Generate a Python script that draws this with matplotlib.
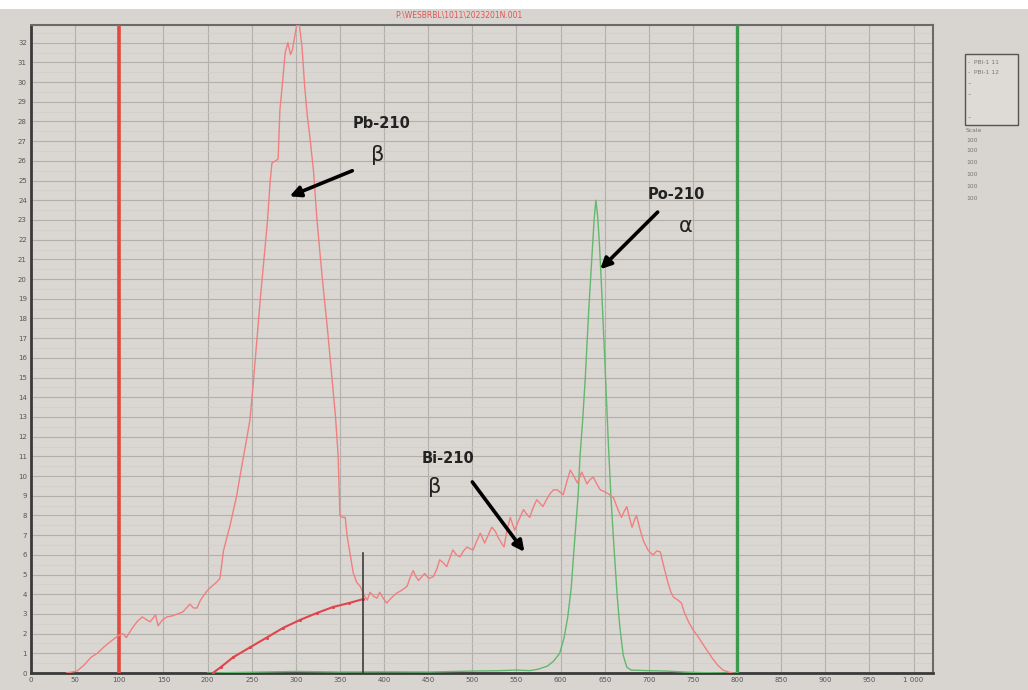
import matplotlib
matplotlib.use("Agg")
import matplotlib.pyplot as plt
from matplotlib.patches import Rectangle
import numpy as np

# spectre rouge (Pb-210 + Bi-210), canal / coups
red_ch = [40, 52, 60, 68, 75, 82, 90, 99, 104, 108, 115, 120, 126, 131, 135, 141, 144, 149, 154, 160,
          166, 172, 176, 180, 184, 188, 192, 195, 200, 206, 210, 214, 218, 222, 225, 229, 233, 236, 240, 244,
          248, 251, 254, 257, 260, 265, 268, 271, 273, 277, 280, 282, 285, 288, 291, 294, 296, 299, 301, 304,
          307, 310, 313, 316, 320, 324, 328, 331, 336, 342, 345, 348, 350, 353, 356, 358, 361, 365, 369, 373,
          378, 381, 384, 388, 392, 395, 399, 403, 408, 414, 420, 426, 430, 433, 436, 439, 443, 446, 451, 456,
          460, 463, 467, 471, 475, 478, 482, 486, 490, 494, 498, 501, 505, 509, 512, 514, 518, 522, 526, 529,
          533, 536, 539, 543, 546, 548, 553, 558, 561, 565, 569, 573, 577, 580, 584, 588, 592, 596, 599, 603,
          607, 611, 615, 619, 624, 627, 630, 633, 637, 641, 645, 650, 654, 657, 660, 665, 669, 672, 675, 678,
          681, 684, 686, 690, 694, 699, 702, 705, 709, 713, 717, 721, 725, 728, 733, 737, 740, 745, 750, 755,
          760, 766, 772, 778, 784, 790, 795]
red_counts = [0.0, 0.1, 0.4, 0.8, 1.0, 1.3, 1.6, 1.9, 2.0, 1.8, 2.3, 2.6, 2.85, 2.7, 2.6, 2.95, 2.4, 2.7, 2.85, 2.9,
              3.0, 3.1, 3.3, 3.5, 3.3, 3.3, 3.7, 3.9, 4.2, 4.45, 4.6, 4.8, 6.2, 6.9, 7.4, 8.2, 9.0, 9.8, 10.8, 11.8,
              12.85, 14.3, 15.9, 17.5, 19.1, 21.5, 23.0, 25.0, 25.9, 26.0, 26.1, 28.6, 30.0, 31.5, 32.0, 31.4, 31.6, 32.4, 32.9, 32.9,
              31.8, 29.8, 28.3, 27.2, 25.5, 23.0, 21.0, 19.6, 17.4, 14.5, 13.0, 11.0, 8.0, 7.9, 7.9, 7.0, 6.2, 5.1, 4.6, 4.4,
              3.9, 3.7, 4.1, 3.9, 3.8, 4.1, 3.8, 3.55, 3.8, 4.05, 4.2, 4.4, 4.9, 5.2, 4.9, 4.7, 4.9, 5.05, 4.8, 4.9,
              5.3, 5.75, 5.6, 5.4, 5.9, 6.25, 6.0, 5.9, 6.2, 6.4, 6.3, 6.25, 6.7, 7.1, 6.8, 6.6, 7.0, 7.4, 7.2, 6.9,
              6.6, 6.4, 7.2, 7.9, 7.5, 7.25, 7.8, 8.3, 8.1, 7.9, 8.4, 8.8, 8.6, 8.45, 8.8, 9.1, 9.3, 9.3, 9.2, 9.05,
              9.7, 10.3, 10.0, 9.65, 10.2, 9.9, 9.6, 9.8, 9.95, 9.6, 9.3, 9.2, 9.1, 9.0, 8.9, 8.3, 7.9, 8.2, 8.45, 7.9,
              7.4, 7.8, 8.0, 7.3, 6.7, 6.25, 6.1, 6.0, 6.2, 6.15, 5.4, 4.7, 4.1, 3.85, 3.7, 3.55, 3.1, 2.6, 2.2, 1.9,
              1.55, 1.15, 0.75, 0.4, 0.15, 0.05, 0.0]

# courbe lissee (pointillee) sous le pic Bi-210
fit_ch = [206, 215, 229, 248, 267, 286, 305, 324, 342, 360, 376]
fit_counts = [0.0, 0.3, 0.8, 1.3, 1.8, 2.3, 2.7, 3.05, 3.35, 3.55, 3.75]

# spectre vert (Po-210 alpha)
po_ch = [200, 260, 300, 350, 400, 450, 500, 530, 550, 565, 575, 585, 592, 599, 604, 608, 612, 616, 620, 622,
         625, 628, 632, 636, 638, 640, 642, 644, 646, 650, 654, 657, 660, 664, 667, 671, 675, 680, 700, 720,
         740, 760, 800]
po_counts = [0.0, 0.05, 0.08, 0.05, 0.06, 0.05, 0.1, 0.12, 0.15, 0.12, 0.2, 0.35, 0.6, 1.0, 1.8, 2.8, 4.3, 6.75, 9.1, 11.0,
             12.8, 15.0, 18.5, 21.5, 23.0, 24.0, 23.2, 21.8, 20.0, 16.0, 11.8, 9.0, 6.75, 4.0, 2.4, 0.9, 0.3, 0.15, 0.12, 0.1,
             0.05, 0.02, 0.0]

win_low = 100
win_high = 800
cursor_ch = 376
cursor_top = 6.1

x_ticks = list(range(0, 1001, 50))
x_labels = [str(t) if t < 1000 else "1 000" for t in x_ticks]
y_ticks = list(range(0, 33))

legend_rows = ["-  PBI-1 11", "-  PBI-1 12", "--", "--", "--"]
scale_rows = ["Scale", "100", "100", "100", "100", "100", "100"]

bg = "#d8d5d0"
fig = plt.figure(figsize=(10.28, 6.9), dpi=100, facecolor=bg)
ax = fig.add_axes([0.0302, 0.0246, 0.8774, 0.9392])
ax.set_facecolor("#dad7d2")

ax.set_xlim(0, 1022)
ax.set_ylim(0, 32.9)
ax.set_xticks(x_ticks)
ax.set_xticklabels(x_labels, fontsize=5, color="#555555")
ax.set_yticks(y_ticks)
ax.set_yticklabels([str(t) for t in y_ticks], fontsize=5, color="#555555")
ax.set_yticks(np.arange(0.5, 33, 1), minor=True)
ax.tick_params(which="both", length=0, pad=3)
ax.grid(True, which="major", color="#b3b0ab", lw=0.8)
ax.grid(True, which="minor", axis="y", color="#d0cdc8", lw=0.5)
ax.set_axisbelow(True)
for side in ["left", "bottom"]:
    ax.spines[side].set_color("#3a3a3a")
    ax.spines[side].set_linewidth(2.0)
for side in ["top", "right"]:
    ax.spines[side].set_color("#6a6a6a")
    ax.spines[side].set_linewidth(1.5)

# fenetres
ax.axvline(win_low, color="#e5483f", lw=2.6, zorder=3)
ax.axvline(win_high, color="#3e9a4e", lw=2.4, zorder=3)

# spectres
ax.plot(po_ch, po_counts, color="#62b86c", lw=1.0, zorder=4)
ax.plot(red_ch, red_counts, color="#f07f7f", lw=1.0, zorder=5)
ax.plot(fit_ch, fit_counts, color="#e0444c", lw=1.5, marker=".", markersize=2.5, zorder=5)
ax.plot([cursor_ch, cursor_ch], [0, cursor_top], color="#3c3c3c", lw=1.2, zorder=6)

# annotations
arrow = dict(arrowstyle="-|>", lw=2.6, color="black", mutation_scale=16, shrinkA=0, shrinkB=0)
ax.annotate("", xy=(293, 24.2), xytext=(364, 25.5), arrowprops=arrow, zorder=7)
ax.annotate("", xy=(645, 20.5), xytext=(710, 23.4), arrowprops=arrow, zorder=7)
ax.annotate("", xy=(559, 6.15), xytext=(500, 9.7), arrowprops=arrow, zorder=7)

ax.text(397, 27.9, "Pb-210", fontsize=10.5, fontweight="bold", ha="center", va="center", color="#222222")
ax.text(393, 26.3, "β", fontsize=15, ha="center", va="center", color="#222222")
ax.text(731, 24.3, "Po-210", fontsize=10.5, fontweight="bold", ha="center", va="center", color="#222222")
ax.text(742, 22.7, "α", fontsize=15, ha="center", va="center", color="#222222")
ax.text(473, 10.9, "Bi-210", fontsize=10.5, fontweight="bold", ha="center", va="center", color="#222222")
ax.text(457, 9.45, "β", fontsize=15, ha="center", va="center", color="#222222")

fig.text(0.446, 0.978, "P:\\WESBRBL\\1011\\2023201N.001", fontsize=5.5, color="#e85050", ha="center", va="center")

# bande blanche en haut
fig.patches.append(Rectangle((0, 0.987), 1, 0.013, transform=fig.transFigure, facecolor="white", edgecolor="none"))

# legende manuelle
fig.patches.append(Rectangle((965 / 1028, 1 - 125 / 690), 53 / 1028, 71 / 690, transform=fig.transFigure,
                             facecolor="#dedbd6", edgecolor="#555555", lw=1.0))
leg_y = [62, 73, 84, 95, 118]
for txt, py in zip(legend_rows, leg_y):
    fig.text(968 / 1028, 1 - py / 690, txt, fontsize=4.3, color="#777777", ha="left", va="center")
scale_y = [130, 140, 151, 163, 175, 187, 198]
for txt, py in zip(scale_rows, scale_y):
    fig.text(966 / 1028, 1 - py / 690, txt, fontsize=4.3, color="#777777", ha="left", va="center")

fig.savefig("out.png", dpi=100, facecolor=bg)
